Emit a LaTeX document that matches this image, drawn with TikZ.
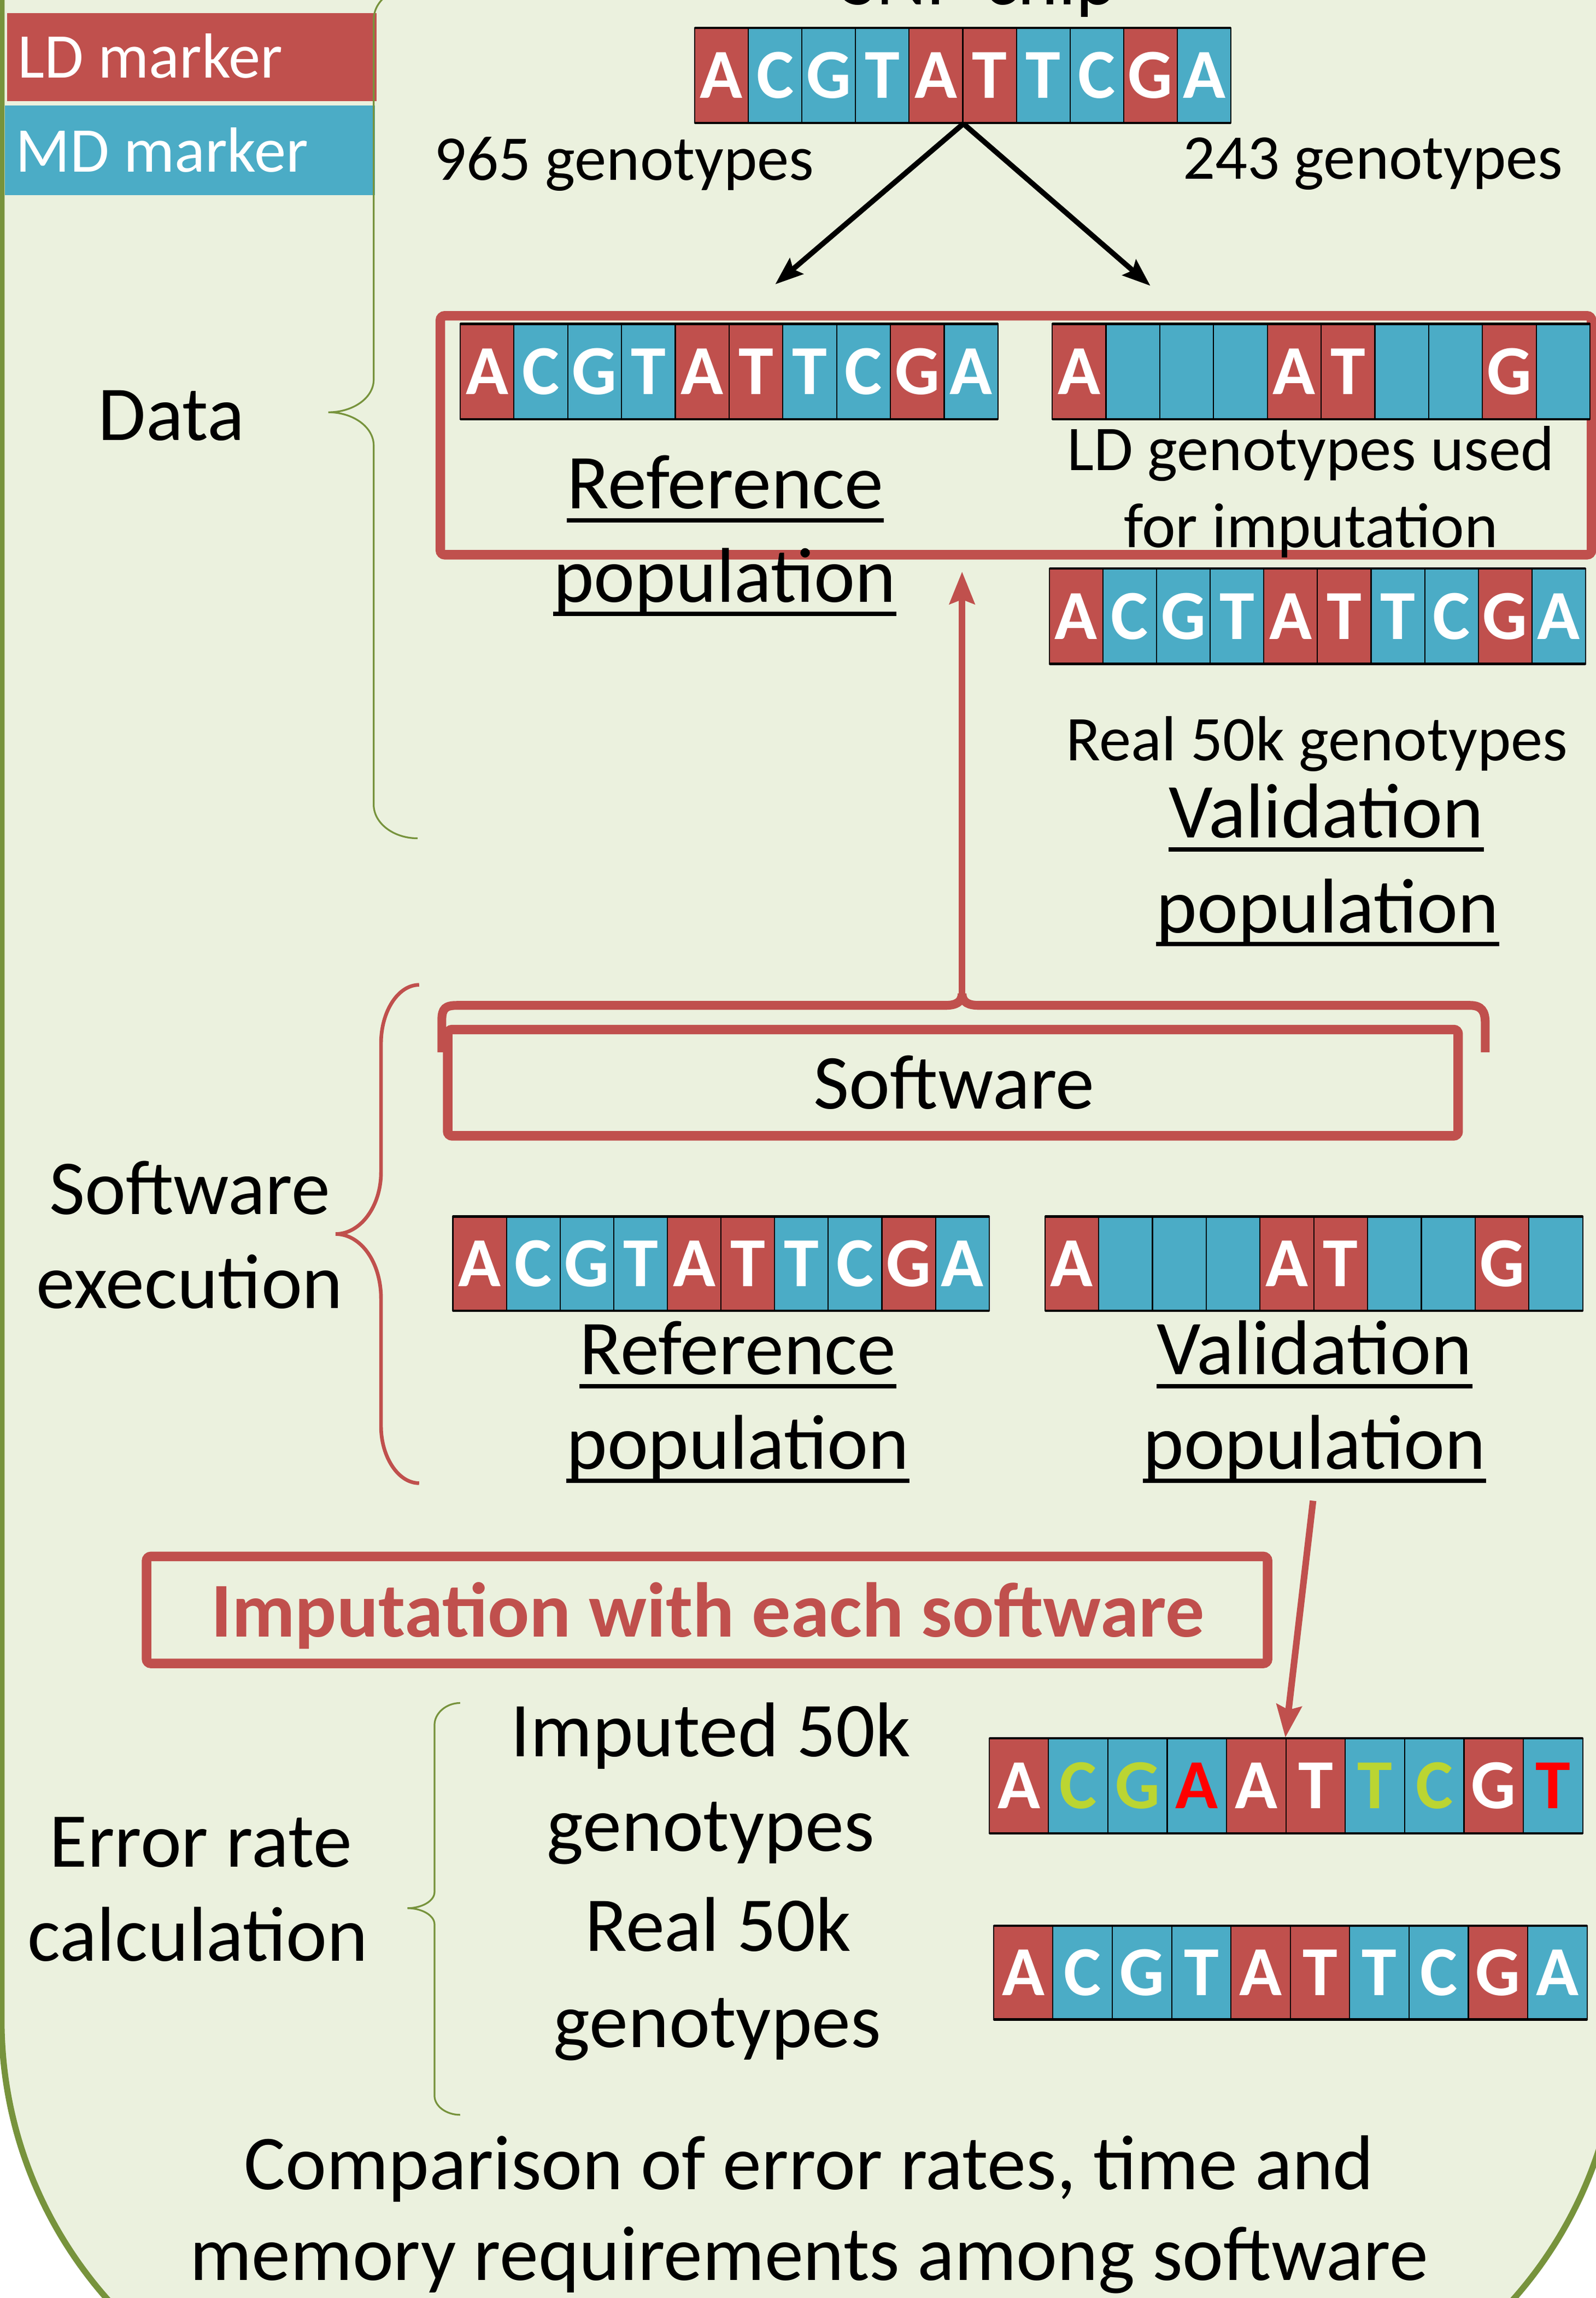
\documentclass[tikz,border=0pt]{standalone}
\usepackage{fontspec}
\setmainfont{Carlito}
\usetikzlibrary{arrows.meta}
\definecolor{ldred}{HTML}{C0504D}
\definecolor{mdblue}{HTML}{4BACC6}
\definecolor{olive}{HTML}{77933C}
\definecolor{bgg}{HTML}{EBF1DE}
\definecolor{limeg}{HTML}{BBD532}
\definecolor{pured}{HTML}{FF0000}

\def\fullrow{ldred/A/white, mdblue/C/white, mdblue/G/white, mdblue/T/white, ldred/A/white, ldred/T/white, mdblue/T/white, mdblue/C/white, ldred/G/white, mdblue/A/white}
\def\ldrow{ldred/A/white, mdblue/{}/white, mdblue/{}/white, mdblue/{}/white, ldred/A/white, ldred/T/white, mdblue/{}/white, mdblue/{}/white, ldred/G/white, mdblue/{}/white}
\def\imputedrow{ldred/A/white, mdblue/C/limeg, mdblue/G/limeg, mdblue/A/pured, ldred/A/white, ldred/T/white, mdblue/T/limeg, mdblue/C/limeg, ldred/G/white, mdblue/T/pured}

% name, x0, y0, cell width, height, list
\newcommand\genrow[6]{%
  \foreach[count=\i] \f/\l/\c in #6{
    \node[cell, fill=\f, text=\c, minimum width=#4pt, minimum height=#5pt] (#1-\i) at ({#2+(\i-0.5)*#4},{#3+#5/2}) {\l};
  }
  \draw[rowedge] (#2,#3) -- ({#2+10*#4},#3);
  \draw[rowedge] (#2,{#3+#5}) -- ({#2+10*#4},{#3+#5});
}
\newcommand\ulnode[1]{\draw[uline] ([yshift=-8pt]#1.base west) -- ([yshift=-8pt]#1.base east);}

\begin{document}
\begin{tikzpicture}[x=1pt,y=-1pt,
  cell/.style={draw=black, line width=0.8pt, inner sep=0pt, anchor=center,
    font=\bfseries\fontsize{48}{50}\selectfont},
  rowedge/.style={black, line width=1.6pt},
  t44/.style={inner sep=0pt, anchor=base, font=\fontsize{43.5}{52}\selectfont},
  t53/.style={inner sep=0pt, anchor=base, font=\fontsize{53}{64}\selectfont},
  uline/.style={black, line width=3pt},
  redbox/.style={draw=ldred, line width=6.5pt, rounded corners=3pt},
  redarrow/.style={draw=ldred, line width=4.5pt, -{Stealth[length=22pt,width=17pt,inset=3pt]}},
  blackarrow/.style={black, line width=3.6pt, -{Stealth[length=19pt,width=14pt,inset=3pt]}},
  thinbrace/.style={olive, line width=1.2pt},
  redbrace/.style={ldred, line width=2.5pt}
]
\useasboundingbox (0,0) rectangle (1089,1568);
\fill[white] (0,0) rectangle (1089,1568);
\begin{scope}
\clip (0,0) rectangle (1089,1568);
\draw[olive, line width=4.2pt, fill=bgg, rounded corners=288pt] (1,-500) rectangle (1105,1666);

% legend
\fill[ldred] (5,9) rectangle (257,69);
\fill[mdblue] (3.5,72) rectangle (256,133);
\node[t44, anchor=base west, text=white] (ldt) at (12,53.3) {LD marker};
\node[t44, anchor=base west, text=white] (mdt) at (10.4,117.2) {MD marker};

% SNP chip
\node[t53] (snp) at (668,3) {SNP chip};
\genrow{chip}{474}{19}{36.6}{65}{\fullrow}
\node[t44, anchor=base west] (g965) at (296,123) {965 genotypes};
\node[t44, anchor=base west] (g243) at (807,122) {243 genotypes};
\coordinate (tipL) at (529,194);
\coordinate (tipR) at (785,195);
\draw[blackarrow] (chip-5.south east) -- (tipL);
\draw[blackarrow] (chip-5.south east) -- (tipR);

% Data section
\draw[thinbrace] (285,-9.4) .. controls (268.5,-9.4) and (255,0) .. (255,13.6) -- (255,259)
  .. controls (255,271.5) and (241,281.3) .. (224,281.3)
  .. controls (241,281.3) and (255,291.4) .. (255,304) -- (255,549)
  .. controls (255,561.7) and (268.5,572) .. (285,572);
\node[t53] (data) at (117,300.4) {Data};
\draw[redbox] (300.5,215.5) rectangle (1086,378.5);
\genrow{dref}{314}{221}{36.7}{65}{\fullrow}
\genrow{dld}{718}{221}{36.7}{65}{\ldrow}
\node[t53] (ref1) at (495,347) {Reference};
\node[t53] (pop1) at (494.5,411) {population};
\ulnode{ref1}
\ulnode{pop1}
\node[t44] (ld1) at (894.5,321) {LD genotypes used};
\node[t44] (ld2) at (894.5,373.6) {for imputation};
\genrow{dval}{716}{388}{36.6}{65}{\fullrow}
\node[t44] (real) at (898.6,519) {Real 50k genotypes};
\node[t53] (val1) at (905,571.7) {Validation};
\node[t53] (pop1v) at (906,636.3) {population};
\ulnode{val1}
\ulnode{pop1v}

% Software execution
\coordinate (brtop) at (656.5,680);
\coordinate (databot) at (656.5,390);
\draw[redarrow] (brtop) -- (databot);
\draw[ldred, line width=6pt] (301.5,718) -- (301.5,696) .. controls (301.5,688) and (304,686) .. (312,686) -- (645,686)
  .. controls (652,686) and (656.5,684) .. (656.5,678)
  .. controls (656.5,684) and (661,686) .. (668,686) -- (1003,686)
  .. controls (1011,686) and (1013.5,690) .. (1013.5,698) -- (1013.5,718);
\draw[redbox] (305.5,702.5) rectangle (995,775);
\node[t53] (soft) at (651,756.4) {Software};
\draw[redbrace] (286,672) .. controls (271.7,672) and (260,690) .. (260,712) -- (260,800)
  .. controls (260,823) and (246,842) .. (229,842)
  .. controls (246,842) and (260,861) .. (260,886) -- (260,973)
  .. controls (260,994) and (271.7,1012) .. (286,1012);
\node[t53] (se1) at (129.5,828.5) {Software};
\node[t53] (se2) at (129.5,892.6) {execution};
\genrow{eref}{309}{830}{36.6}{64.5}{\fullrow}
\genrow{eval}{713}{830}{36.7}{64.5}{\ldrow}
\node[t53] (ref2) at (503.5,938) {Reference};
\node[t53] (pop2) at (503.5,1002.5) {population};
\node[t53] (val2) at (897,938) {Validation};
\node[t53] (pop2v) at (897,1002.5) {population};
\ulnode{ref2}
\ulnode{pop2}
\ulnode{val2}
\ulnode{pop2v}

% Imputation
\draw[redbox] (100,1062) rectangle (865,1135);
\node[t53, text=ldred, font=\bfseries\fontsize{53}{64}\selectfont] (imp) at (483,1117) {Imputation with each software};
\genrow{improw}{675}{1186}{40.5}{65}{\imputedrow}
\genrow{realrow}{678}{1314}{40.5}{64}{\fullrow}
\coordinate (vpopb) at (896,1024);
\draw[redarrow] (vpopb) -- (improw-6.north west);

% Error rate
\draw[thinbrace] (314,1162) .. controls (304.4,1162) and (296.5,1169) .. (296.5,1177) -- (296.5,1291)
  .. controls (296.5,1297) and (288,1302) .. (278,1302)
  .. controls (288,1302) and (296.5,1307) .. (296.5,1313) -- (296.5,1430)
  .. controls (296.5,1437) and (304.4,1443) .. (314,1443);
\node[t53] (e1) at (137,1274) {Error rate};
\node[t53] (e2) at (135,1338) {calculation};
\node[t53] (i1) at (485,1198.5) {Imputed 50k};
\node[t53] (i2) at (485,1263) {genotypes};
\node[t53] (i3) at (490,1331.5) {Real 50k};
\node[t53] (i4) at (489.5,1397) {genotypes};
\node[t53] (c1) at (552,1494) {Comparison of error rates, time and};
\node[t53] (c2) at (552,1556) {memory requirements among software};
\end{scope}
\end{tikzpicture}
\end{document}
